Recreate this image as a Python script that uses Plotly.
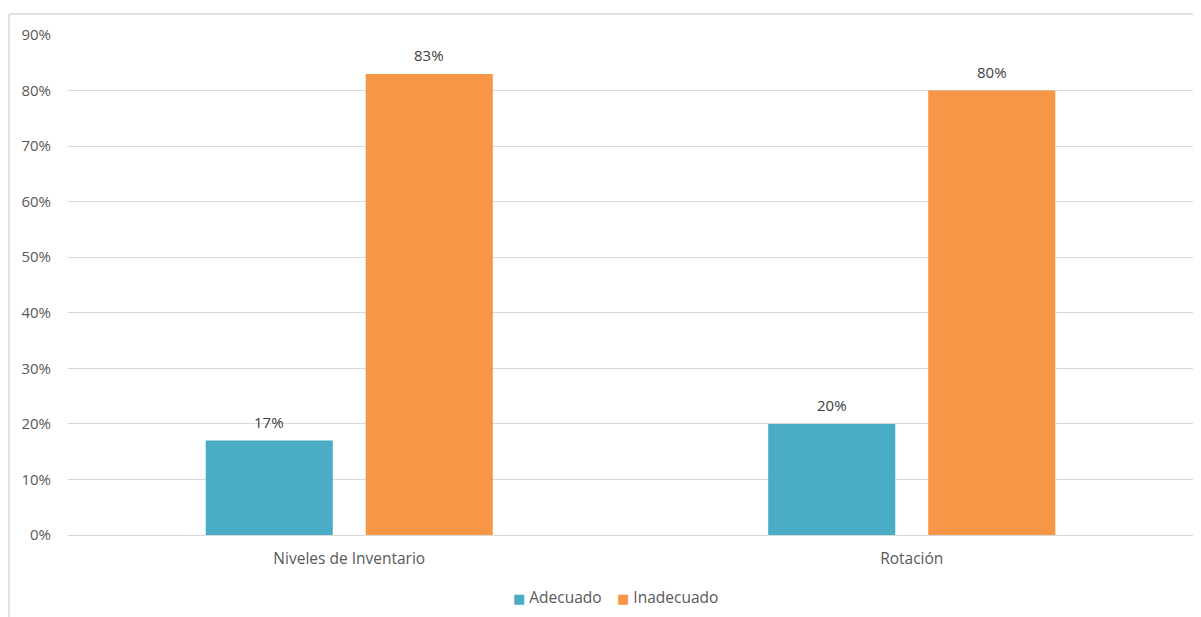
import plotly.graph_objects as go

categories = ["Niveles de Inventario", "Rotación"]
adecuado = [17, 20]
inadecuado = [83, 80]
tick_vals = [0, 10, 20, 30, 40, 50, 60, 70, 80, 90]
tick_text = [f"{v}%" for v in tick_vals]

FONT = "'Open Sans', Lato, sans-serif"
SERIES = [("Adecuado", adecuado, "#4BACC6", -80, 0.435),
          ("Inadecuado", inadecuado, "#F79646", 80, 0.533)]

fig = go.Figure()
annotations = []
for name, vals, color, shift, lx in SERIES:
    fig.add_trace(go.Bar(
        name=name, x=categories, y=vals, showlegend=False,
        marker=dict(color=color, line=dict(width=0)),
    ))
    for c, v in zip(categories, vals):
        annotations.append(dict(
            x=c, y=v, xref="x", yref="y", text=f"{v}%", showarrow=False,
            xshift=shift, yshift=7, yanchor="bottom",
            font=dict(size=15, color="#404040", family=FONT),
        ))
    # legend entry
    annotations.append(dict(
        x=lx, y=-0.124, xref="paper", yref="paper", showarrow=False,
        xanchor="center", yanchor="middle",
        text=f"<span style='color:{color};font-family:DejaVu Sans;font-size:13px'>■</span> {name}",
        font=dict(size=15.5, color="#595959", family=FONT),
    ))

fig.update_layout(
    width=1193, height=609,
    margin=dict(l=60, r=8, t=27, b=82, autoexpand=False),
    paper_bgcolor="white", plot_bgcolor="white",
    barmode="group", bargap=0.431, bargroupgap=0.206,
    font=dict(family=FONT, color="#595959", size=14),
    showlegend=False,
    xaxis=dict(showgrid=False, showline=False, ticks="", automargin=False,
               ticklabelstandoff=12, tickfont=dict(size=15.5, color="#595959")),
    yaxis=dict(range=[0, 90], tickvals=tick_vals, ticktext=tick_text, automargin=False,
               showgrid=True, gridcolor="#D9D9D9", gridwidth=1,
               zeroline=True, zerolinecolor="#D9D9D9", zerolinewidth=1,
               showline=False, ticks="", ticklabelstandoff=16,
               tickfont=dict(size=15, color="#595959")),
    annotations=annotations,
    shapes=[
        dict(type="line", xref="paper", yref="paper", x0=-0.0524, x1=1.02, y0=1.042, y1=1.042,
             line=dict(color="#D9D9D9", width=1.5)),
        dict(type="line", xref="paper", yref="paper", x0=-0.0524, x1=-0.0524, y0=1.042, y1=-0.2,
             line=dict(color="#D9D9D9", width=1.5)),
    ],
)

fig.write_html("out.html")
